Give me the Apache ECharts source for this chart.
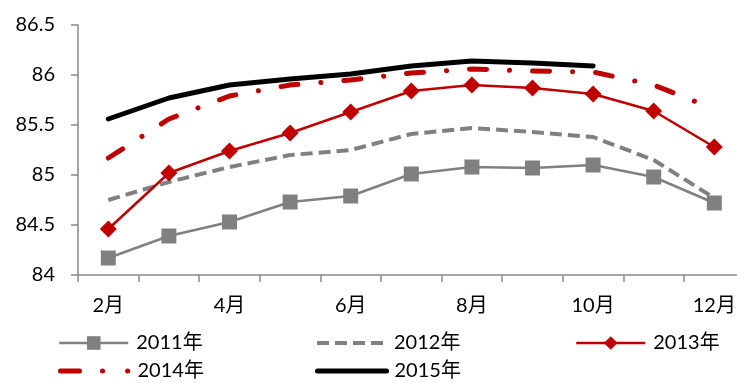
<!DOCTYPE html>
<html>
<head>
<meta charset="utf-8">
<script src="https://cdn.jsdelivr.net/npm/echarts@6/dist/echarts.min.js"></script>
<style>
  html, body { margin: 0; padding: 0; background: #fff; }
  #chart { width: 737px; height: 383px; }
</style>
</head>
<body>
<div id="chart"></div>
<script>
// Monthly values, Feb to Dec
const months = ['2月', '3月', '4月', '5月', '6月', '7月', '8月', '9月', '10月', '11月', '12月'];
const y2011 = [84.17, 84.39, 84.53, 84.73, 84.79, 85.01, 85.08, 85.07, 85.10, 84.98, 84.72];
const y2012 = [84.75, 84.93, 85.08, 85.20, 85.25, 85.41, 85.47, 85.43, 85.38, 85.15, 84.77];
const y2013 = [84.46, 85.02, 85.24, 85.42, 85.63, 85.84, 85.90, 85.87, 85.81, 85.64, 85.28];
const y2014 = [85.17, 85.56, 85.79, 85.90, 85.95, 86.02, 86.06, 86.04, 86.03, 85.90, 85.66];
const y2015 = [85.56, 85.77, 85.90, 85.96, 86.01, 86.09, 86.14, 86.12, 86.09, null, null];
const seriesNames = ['2011年', '2012年', '2013年', '2014年', '2015年'];

const FONT = 'Lato, "Noto Sans CJK SC", sans-serif';
const GRAY = '#808080';
const RED = '#C00000';
const AXIS = '#898989';

// One legend block per series so each sits in its own column/row
function legendAt(name, left, top, lineStyle, hideSymbol) {
  const lg = {
    data: [name],
    left: left,
    top: top,
    padding: 0,
    itemWidth: 69,
    itemHeight: 17,
    lineStyle: lineStyle,
    textStyle: { fontFamily: FONT, fontSize: 20, color: '#000', padding: [0, 0, 0, 3] }
  };
  if (hideSymbol) lg.itemStyle = { opacity: 0 };
  return lg;
}

const chart = echarts.init(document.getElementById('chart'), null, { renderer: 'canvas' });
chart.setOption({
  animation: false,
  backgroundColor: '#fff',
  grid: { left: 78, top: 25, bottom: 108, right: -7.6, containLabel: false, outerBoundsMode: 'none' },
  legend: [
    legendAt(seriesNames[0], 58, 333, { width: 2.5 }, false),
    legendAt(seriesNames[1], 315, 333, { width: 4 }, true),
    legendAt(seriesNames[2], 575, 333, { width: 2.5 }, false),
    legendAt(seriesNames[3], 58, 361, { width: 5, type: [19, 23, 0.1, 25, 0.1, 30], cap: 'round' }, true),
    legendAt(seriesNames[4], 315, 361, { width: 5 }, true)
  ],
  xAxis: {
    type: 'category',
    data: months,
    boundaryGap: true,
    axisLine: { lineStyle: { color: AXIS, width: 1.5 } },
    axisTick: { show: true, interval: 0, length: 7, lineStyle: { color: AXIS, width: 1.5 } },
    axisLabel: { interval: 1, margin: 21, fontFamily: FONT, fontSize: 20, color: '#000' },
    splitLine: { show: false }
  },
  yAxis: {
    type: 'value',
    min: 84,
    max: 86.5,
    interval: 0.5,
    axisLine: { show: true, lineStyle: { color: AXIS, width: 1.5 } },
    axisTick: { show: true, length: 7, lineStyle: { color: AXIS, width: 1.5 } },
    axisLabel: { margin: 23, fontFamily: FONT, fontSize: 20, color: '#000' },
    splitLine: { show: false }
  },
  series: [
    {
      name: seriesNames[0], type: 'line', data: y2011, z: 2,
      symbol: 'rect', symbolSize: 15,
      itemStyle: { color: GRAY },
      lineStyle: { color: GRAY, width: 2.5 }
    },
    {
      name: seriesNames[1], type: 'line', data: y2012, z: 3,
      symbol: 'none',
      itemStyle: { color: GRAY },
      lineStyle: { color: GRAY, width: 4, type: [12, 6] }
    },
    {
      name: seriesNames[2], type: 'line', data: y2013, z: 4,
      symbol: 'diamond', symbolSize: [17, 17],
      itemStyle: { color: RED },
      lineStyle: { color: RED, width: 2.5 }
    },
    {
      name: seriesNames[3], type: 'line', data: y2014, z: 5,
      symbol: 'none',
      itemStyle: { color: RED },
      lineStyle: { color: RED, width: 5, type: [17, 23, 0.1, 23], cap: 'round' }
    },
    {
      name: seriesNames[4], type: 'line', data: y2015, z: 6,
      symbol: 'none',
      itemStyle: { color: '#000' },
      lineStyle: { color: '#000', width: 5, cap: 'round' }
    }
  ]
});
</script>
</body>
</html>
